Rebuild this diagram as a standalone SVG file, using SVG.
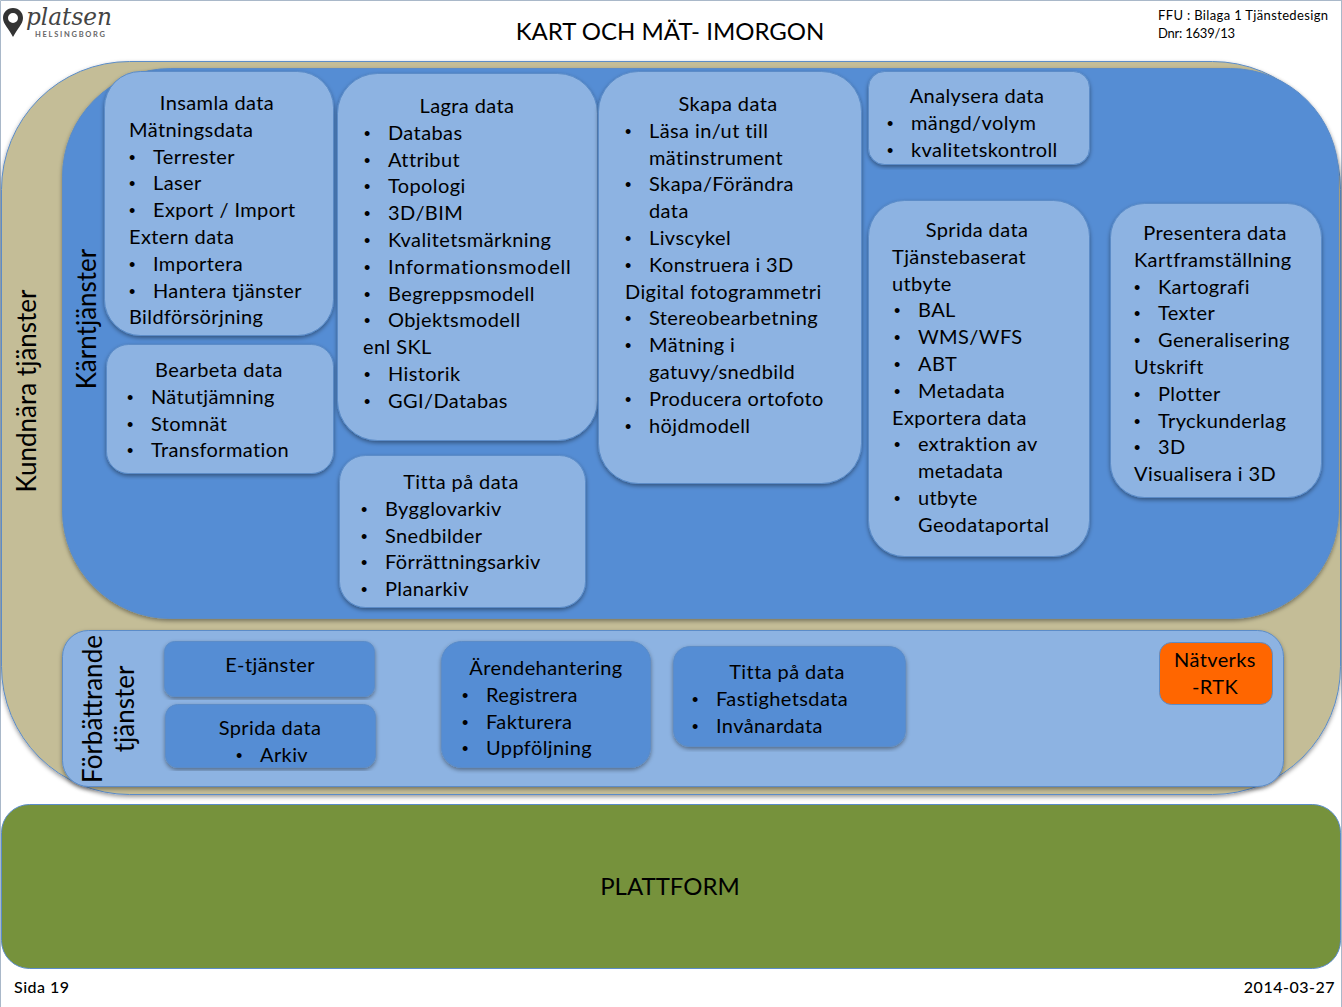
<svg xmlns="http://www.w3.org/2000/svg" width="1342" height="1007" viewBox="0 0 1342 1007">
<style>
text{font-family:Lato,Carlito,"Open Sans",sans-serif;font-size:20px;fill:#000;letter-spacing:.4px}
.c{text-anchor:middle}
.big{font-size:26px;letter-spacing:0}
.ttl{font-size:24px;letter-spacing:0}
.hdr{font-size:13px;letter-spacing:0}
.foot{font-size:16px;letter-spacing:.5px;font-weight:500}
.b{font-family:"Liberation Sans",sans-serif;font-size:18px;letter-spacing:0}
.lt{fill:#8db3e2;stroke:#5b8cc8;stroke-width:1;filter:url(#sh)}
.dk{fill:#548dd4;stroke:#5b8cc8;stroke-width:1;filter:url(#sh)}
</style>
<defs>
<filter id="sh" x="-5%" y="-5%" width="110%" height="110%"><feDropShadow dx="0" dy="2" stdDeviation="2" flood-color="#000" flood-opacity=".4"/></filter>
</defs>
<rect x="0" y="0" width="1342" height="1007" fill="#fff"/>
<path d="M.5 1007V.5H1342" fill="none" stroke="#a9b8c9"/>
<path d="M1341.500 0V1007" fill="none" stroke="#a9b8c9"/>

<g id="logo">
<path d="M13 8c-6 0-10 4.500-10 10 0 6 6 11 10 19 4-8 10-13 10-19 0-5.500-4-10-10-10zM13 13a5 5 0 1 1 0 10 5 5 0 0 1 0-10z" fill="#333" fill-rule="evenodd"/>
<text x="26" y="25" style="font-family:'DejaVu Serif',serif;font-style:italic;font-size:24px;fill:#444;letter-spacing:0" textLength="86" lengthAdjust="spacingAndGlyphs">platsen</text>
<text x="35" y="37" style="font-size:7.500px;font-weight:700;fill:#666;letter-spacing:0" textLength="70">HELSINGBORG</text>
</g>
<g id="header">
<text x="670" y="40" class="c ttl">KART OCH MÄT- IMORGON</text>
<text x="1158" y="20" class="hdr" textLength="170">FFU : Bilaga 1 Tjänstedesign</text>
<text x="1158" y="38" class="hdr" textLength="77">Dnr: 1639/13</text>
</g>

<g id="kundnara">
<rect x="1.500" y="61.500" width="1339" height="733" rx="128" fill="#c4bd97" stroke="#5b8cc8" filter="url(#sh)"/>
<text transform="translate(36 391) rotate(-90)" class="c big">Kundnära tjänster</text>
</g>
<g id="karntjanster">
<rect x="62.500" y="68.500" width="1276" height="550" rx="108" class="dk"/>
<text transform="translate(96 319) rotate(-90)" class="c big">Kärntjänster</text>
</g>

<g id="insamla">
<rect x="104.500" y="71.500" width="229" height="264" rx="36" class="lt"/>
<text x="217" y="110" class="c">Insamla data</text>
<text x="129" y="137">Mätningsdata</text>
<text x="129" y="164" class="b">•</text><text x="153" y="164">Terrester</text>
<text x="129" y="190" class="b">•</text><text x="153" y="190">Laser</text>
<text x="129" y="217" class="b">•</text><text x="153" y="217">Export / Import</text>
<text x="129" y="244">Extern data</text>
<text x="129" y="271" class="b">•</text><text x="153" y="271">Importera</text>
<text x="129" y="298" class="b">•</text><text x="153" y="298">Hantera tjänster</text>
<text x="129" y="324">Bildförsörjning</text>
</g>
<g id="bearbeta">
<rect x="106.500" y="344.500" width="227" height="129" rx="22" class="lt"/>
<text x="219" y="377" class="c">Bearbeta data</text>
<text x="127" y="404" class="b">•</text><text x="151" y="404">Nätutjämning</text>
<text x="127" y="431" class="b">•</text><text x="151" y="431">Stomnät</text>
<text x="127" y="457" class="b">•</text><text x="151" y="457">Transformation</text>
</g>
<g id="lagra">
<rect x="337.500" y="73.500" width="260" height="367" rx="40" class="lt"/>
<text x="467" y="113" class="c">Lagra data</text>
<text x="364" y="140" class="b">•</text><text x="388" y="140">Databas</text>
<text x="364" y="167" class="b">•</text><text x="388" y="167">Attribut</text>
<text x="364" y="193" class="b">•</text><text x="388" y="193">Topologi</text>
<text x="364" y="220" class="b">•</text><text x="388" y="220">3D/BIM</text>
<text x="364" y="247" class="b">•</text><text x="388" y="247">Kvalitetsmärkning</text>
<text x="364" y="274" class="b">•</text><text x="388" y="274" textLength="183">Informationsmodell</text>
<text x="364" y="301" class="b">•</text><text x="388" y="301">Begreppsmodell</text>
<text x="364" y="327" class="b">•</text><text x="388" y="327">Objektsmodell</text>
<text x="363" y="354">enl SKL</text>
<text x="364" y="381" class="b">•</text><text x="388" y="381">Historik</text>
<text x="364" y="408" class="b">•</text><text x="388" y="408">GGI/Databas</text>
</g>
<g id="titta1">
<rect x="339.500" y="455.500" width="246" height="152" rx="26" class="lt"/>
<text x="461" y="489" class="c">Titta på data</text>
<text x="361" y="516" class="b">•</text><text x="385" y="516">Bygglovarkiv</text>
<text x="361" y="543" class="b">•</text><text x="385" y="543">Snedbilder</text>
<text x="361" y="569" class="b">•</text><text x="385" y="569">Förrättningsarkiv</text>
<text x="361" y="596" class="b">•</text><text x="385" y="596">Planarkiv</text>
</g>
<g id="skapa">
<rect x="598.500" y="71.500" width="263" height="412" rx="40" class="lt"/>
<text x="728" y="111" class="c">Skapa data</text>
<text x="625" y="138" class="b">•</text><text x="649" y="138">Läsa in/ut till</text>
<text x="649" y="165">mätinstrument</text>
<text x="625" y="191" class="b">•</text><text x="649" y="191">Skapa/Förändra</text>
<text x="649" y="218">data</text>
<text x="625" y="245" class="b">•</text><text x="649" y="245">Livscykel</text>
<text x="625" y="272" class="b">•</text><text x="649" y="272">Konstruera i 3D</text>
<text x="625" y="299">Digital fotogrammetri</text>
<text x="625" y="325" class="b">•</text><text x="649" y="325">Stereobearbetning</text>
<text x="625" y="352" class="b">•</text><text x="649" y="352">Mätning i</text>
<text x="649" y="379">gatuvy/snedbild</text>
<text x="625" y="406" class="b">•</text><text x="649" y="406">Producera ortofoto</text>
<text x="625" y="433" class="b">•</text><text x="649" y="433">höjdmodell</text>
</g>
<g id="analysera">
<rect x="868.500" y="71.500" width="221" height="93" rx="16" class="lt"/>
<text x="977" y="103" class="c">Analysera data</text>
<text x="887" y="130" class="b">•</text><text x="911" y="130">mängd/volym</text>
<text x="887" y="157" class="b">•</text><text x="911" y="157">kvalitetskontroll</text>
</g>
<g id="sprida">
<rect x="868.500" y="200.500" width="221" height="356" rx="36" class="lt"/>
<text x="977" y="237" class="c">Sprida data</text>
<text x="892" y="264">Tjänstebaserat</text>
<text x="892" y="291">utbyte</text>
<text x="894" y="317" class="b">•</text><text x="918" y="317">BAL</text>
<text x="894" y="344" class="b">•</text><text x="918" y="344">WMS/WFS</text>
<text x="894" y="371" class="b">•</text><text x="918" y="371">ABT</text>
<text x="894" y="398" class="b">•</text><text x="918" y="398">Metadata</text>
<text x="892" y="425">Exportera data</text>
<text x="894" y="451" class="b">•</text><text x="918" y="451">extraktion av</text>
<text x="918" y="478">metadata</text>
<text x="894" y="505" class="b">•</text><text x="918" y="505">utbyte</text>
<text x="918" y="532">Geodataportal</text>
</g>
<g id="presentera">
<rect x="1110.500" y="203.500" width="211" height="294" rx="34" class="lt"/>
<text x="1215" y="240" class="c">Presentera data</text>
<text x="1134" y="267">Kartframställning</text>
<text x="1134" y="294" class="b">•</text><text x="1158" y="294">Kartografi</text>
<text x="1134" y="320" class="b">•</text><text x="1158" y="320">Texter</text>
<text x="1134" y="347" class="b">•</text><text x="1158" y="347">Generalisering</text>
<text x="1134" y="374">Utskrift</text>
<text x="1134" y="401" class="b">•</text><text x="1158" y="401">Plotter</text>
<text x="1134" y="428" class="b">•</text><text x="1158" y="428">Tryckunderlag</text>
<text x="1134" y="454" class="b">•</text><text x="1158" y="454">3D</text>
<text x="1134" y="481">Visualisera i 3D</text>
</g>

<g id="forbattrande">
<rect x="62.500" y="630.500" width="1221" height="156" rx="26" class="lt"/>
<text transform="translate(102 709) rotate(-90)" class="c big">Förbättrande</text>
<text transform="translate(134 709) rotate(-90)" class="c big">tjänster</text>
</g>
<g id="etjanster">
<rect x="164.500" y="641.500" width="210" height="55" rx="10" class="dk"/>
<text x="270" y="672" class="c">E-tjänster</text>
</g>
<g id="sprida2">
<rect x="165.500" y="704.500" width="210" height="63" rx="12" class="dk"/>
<text x="270" y="735" class="c">Sprida data</text>
<text x="236" y="762" class="b">•</text><text x="260" y="762">Arkiv</text>
</g>
<g id="arende">
<rect x="441.500" y="641.500" width="209" height="126" rx="20" class="dk"/>
<text x="546" y="675" class="c">Ärendehantering</text>
<text x="462" y="702" class="b">•</text><text x="486" y="702">Registrera</text>
<text x="462" y="729" class="b">•</text><text x="486" y="729">Fakturera</text>
<text x="462" y="755" class="b">•</text><text x="486" y="755">Uppföljning</text>
</g>
<g id="titta2">
<rect x="673.500" y="646.500" width="232" height="100" rx="16" class="dk"/>
<text x="787" y="679" class="c">Titta på data</text>
<text x="692" y="706" class="b">•</text><text x="716" y="706">Fastighetsdata</text>
<text x="692" y="733" class="b">•</text><text x="716" y="733">Invånardata</text>
</g>
<g id="natverks">
<rect x="1159.500" y="642.500" width="113" height="62" rx="12" fill="#f60" stroke="#5b8cc8"/>
<text x="1215" y="667" class="c">Nätverks</text>
<text x="1215" y="694" class="c">-RTK</text>
</g>
<g id="plattform">
<rect x="1.500" y="804.500" width="1339" height="164" rx="28" fill="#76923c" stroke="#5b8cc8"/>
<text x="670" y="895" class="c ttl">PLATTFORM</text>
</g>
<g id="footer">
<text x="14" y="993" class="foot">Sida 19</text>
<text x="1335" y="993" class="foot" text-anchor="end">2014-03-27</text>
</g>
<g id="connectors"/>
</svg>
